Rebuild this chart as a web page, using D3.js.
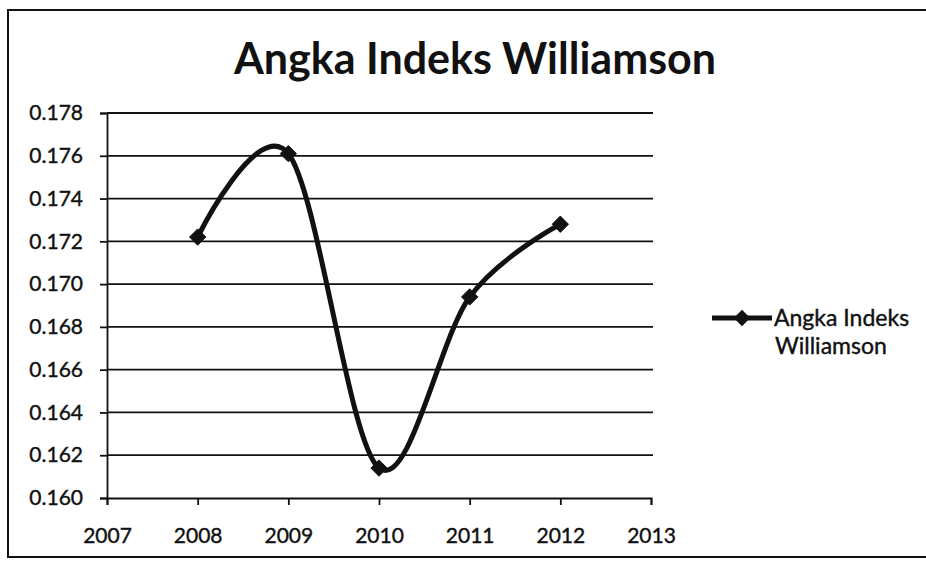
<!DOCTYPE html>
<html>
<head>
<meta charset="utf-8">
<script src="https://cdn.jsdelivr.net/npm/d3@7"></script>
<style>
  html, body { margin: 0; padding: 0; background: #fff; }
  svg { display: block; }
  text { font-family: Lato, "Open Sans", sans-serif; fill: #111; }
</style>
</head>
<body>
<svg id="chart" width="926" height="565"></svg>
<script>
// Williamson index by year
const years = [2008, 2009, 2010, 2011, 2012];
const indexValues = [0.1722, 0.1761, 0.1614, 0.1694, 0.1728];
const yTicks = [0.160, 0.162, 0.164, 0.166, 0.168, 0.170, 0.172, 0.174, 0.176, 0.178];
const xTicks = [2007, 2008, 2009, 2010, 2011, 2012, 2013];
const chartTitle = "Angka Indeks Williamson";
const seriesName = ["Angka Indeks", "Williamson"];

const svg = d3.select("#chart");

// outer frame
svg.append("rect")
  .attr("x", 8).attr("y", 10).attr("width", 940).attr("height", 547)
  .attr("fill", "none").attr("stroke", "#111").attr("stroke-width", 2);

const plot = { left: 107, right: 651, top: 113, bottom: 498 };

const x = d3.scaleLinear().domain([2007, 2013]).range([plot.left, plot.right]);
const y = d3.scaleLinear().domain([0.160, 0.178]).range([plot.bottom, plot.top]);

// title
svg.append("text")
  .attr("x", 475).attr("y", 74)
  .attr("text-anchor", "middle")
  .style("font-size", "43px").style("font-weight", "bold")
  .text(chartTitle);

// horizontal gridlines
svg.append("g")
  .selectAll("line")
  .data(yTicks.slice(1))
  .join("line")
  .attr("x1", plot.left).attr("x2", plot.right + 2)
  .attr("y1", d => y(d)).attr("y2", d => y(d))
  .attr("stroke", "#111").attr("stroke-width", 1.8);

// y axis
const yAxis = svg.append("g")
  .attr("transform", `translate(${plot.left},0)`)
  .call(d3.axisLeft(y).tickValues(yTicks).tickFormat(d3.format(".3f")).tickSize(7).tickPadding(17));
yAxis.selectAll("path, line").attr("stroke", "#111").attr("stroke-width", 1.8);
yAxis.selectAll("text").style("font-size", "21px").attr("fill", "#111")
  .attr("stroke", "#111").attr("stroke-width", 0.4);

// x axis
const xAxis = svg.append("g")
  .attr("transform", `translate(0,${plot.bottom})`)
  .call(d3.axisBottom(x).tickValues(xTicks).tickFormat(d3.format("d")).tickSize(7).tickPadding(23));
xAxis.selectAll("path, line").attr("stroke", "#111").attr("stroke-width", 1.8);
xAxis.selectAll("text").style("font-size", "21px").attr("fill", "#111")
  .attr("stroke", "#111").attr("stroke-width", 0.4);

// smoothed series line
const pts = years.map((yr, i) => [yr, indexValues[i]]);
const line = d3.line()
  .x(d => x(d[0])).y(d => y(d[1]))
  .curve(d3.curveCardinal.tension(0));

svg.append("path")
  .datum(pts)
  .attr("d", line)
  .attr("fill", "none").attr("stroke", "#111").attr("stroke-width", 5);

const diamond = d3.symbol().type(d3.symbolDiamond2).size(170);
svg.append("g")
  .selectAll("path")
  .data(pts)
  .join("path")
  .attr("transform", d => `translate(${x(d[0])},${y(d[1])})`)
  .attr("d", diamond)
  .attr("fill", "#111").attr("stroke", "#111").attr("stroke-width", 1);

// legend
const lg = svg.append("g").attr("transform", "translate(712,318)");
lg.append("line").attr("x1", 0).attr("x2", 60).attr("y1", 0).attr("y2", 0)
  .attr("stroke", "#111").attr("stroke-width", 5);
lg.append("path").attr("transform", "translate(30,0)").attr("d", diamond)
  .attr("fill", "#111");
lg.append("text").attr("x", 62).attr("y", 8).style("font-size", "23px")
  .attr("stroke", "#111").attr("stroke-width", 0.4).text(seriesName[0]);
lg.append("text").attr("x", 63).attr("y", 36).style("font-size", "23px")
  .attr("stroke", "#111").attr("stroke-width", 0.4).text(seriesName[1]);
</script>
</body>
</html>
